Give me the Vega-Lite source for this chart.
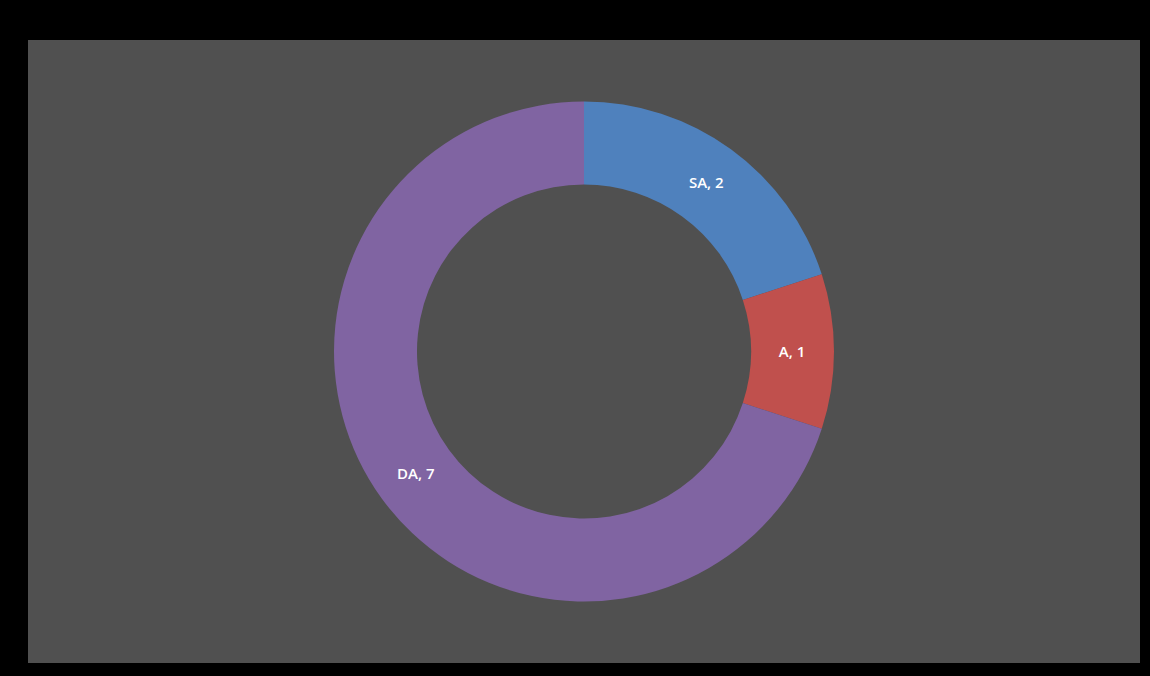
{
  "$schema": "https://vega.github.io/schema/vega-lite/v6.json",
  "width": 1112,
  "height": 623,
  "padding": {"left": 28, "top": 40, "right": 10, "bottom": 13},
  "autosize": {"type": "none"},
  "background": "#000000",
  "view": {"fill": "#505050", "stroke": null},
  "data": {
    "values": [
      {"category": "SA", "value": 2, "idx": 1},
      {"category": "A", "value": 1, "idx": 2},
      {"category": "DA", "value": 7, "idx": 3}
    ]
  },
  "encoding": {
    "theta": {"field": "value", "type": "quantitative", "stack": true},
    "order": {"field": "idx", "type": "quantitative"}
  },
  "layer": [
    {
      "mark": {"type": "arc", "outerRadius": 250, "innerRadius": 167},
      "encoding": {
        "color": {
          "field": "category",
          "type": "nominal",
          "scale": {"domain": ["SA", "A", "DA"], "range": ["#4F81BD", "#C0504D", "#8064A2"]},
          "legend": null
        }
      }
    },
    {
      "mark": {"type": "text", "radius": 208, "fill": "#FFFFFF", "font": "Open Sans", "fontSize": 15, "fontWeight": 600},
      "encoding": {
        "text": {"field": "label", "type": "nominal"}
      },
      "transform": [{"calculate": "datum.category + ', ' + datum.value", "as": "label"}]
    }
  ]
}
